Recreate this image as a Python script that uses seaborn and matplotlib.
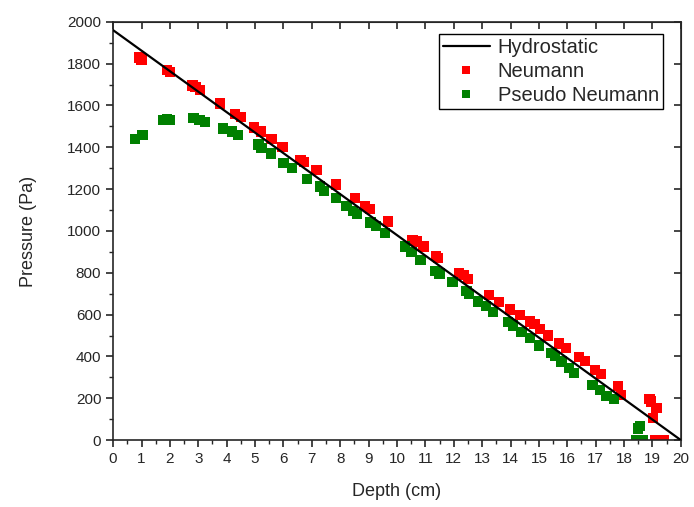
import numpy as np
import pandas as pd
import seaborn as sns
import matplotlib.pyplot as plt
from matplotlib.ticker import MultipleLocator

# depth (cm) / pressure (Pa)
hydro_depth = [0, 20]
hydro_pressure = [1960, 0]

neumann_depth = [0.9, 1.0, 1.9, 2.0, 2.8, 2.9, 3.06, 3.77, 4.3, 4.5, 4.96, 5.2, 5.58, 5.97,
                 6.6, 6.73, 7.17, 7.84, 8.52, 8.87, 9.05, 9.69, 10.55, 10.7, 10.93, 11.37,
                 11.45, 12.19, 12.35, 12.51, 13.25, 13.6, 13.98, 14.33, 14.68, 14.85, 15.04,
                 15.33, 15.72, 15.95, 16.42, 16.62, 16.97, 17.2, 17.79, 17.9, 18.9, 18.95,
                 19.14, 19.03, 19.08, 19.25, 19.4]
neumann_pressure = [1830, 1820, 1770, 1760, 1695, 1688, 1675, 1610, 1560, 1545, 1495, 1475,
                    1440, 1400, 1340, 1330, 1290, 1222, 1158, 1118, 1104, 1045, 955, 950, 925,
                    880, 872, 800, 790, 770, 693, 660, 625, 597, 567, 555, 530, 500, 462, 440,
                    398, 378, 335, 315, 260, 215, 195, 185, 155, 105, 0, 0, 0]

pseudo_depth = [0.77, 1.04, 1.77, 1.9, 2.0, 2.83, 3.04, 3.24, 3.88, 4.18, 4.41, 5.12, 5.23,
                5.55, 6.0, 6.29, 6.84, 7.29, 7.42, 7.85, 8.22, 8.46, 8.6, 9.07, 9.26, 9.58,
                10.28, 10.51, 10.83, 11.35, 11.5, 11.96, 12.45, 12.55, 12.86, 13.13, 13.39,
                13.92, 14.1, 14.39, 14.68, 15.0, 15.44, 15.56, 15.8, 16.07, 16.24, 16.89,
                17.15, 17.38, 17.65, 18.5, 18.56, 18.42, 18.55, 18.68]
pseudo_pressure = [1440, 1460, 1530, 1535, 1532, 1540, 1530, 1522, 1490, 1475, 1458, 1413,
                   1397, 1370, 1326, 1300, 1250, 1212, 1190, 1158, 1118, 1095, 1080, 1040,
                   1022, 990, 925, 900, 862, 810, 797, 757, 712, 700, 663, 640, 612, 565, 548,
                   518, 488, 452, 415, 402, 375, 345, 322, 265, 240, 210, 195, 56, 67, 0, 0, 0]

sns.set_style('ticks')
plt.rcParams['font.family'] = ['Liberation Sans', 'DejaVu Sans']

hydro = pd.DataFrame({'Depth': hydro_depth, 'Pressure': hydro_pressure})
pts = pd.concat([
    pd.DataFrame({'Depth': neumann_depth, 'Pressure': neumann_pressure, 'Series': 'Neumann'}),
    pd.DataFrame({'Depth': pseudo_depth, 'Pressure': pseudo_pressure, 'Series': 'Pseudo Neumann'}),
])

fig = plt.figure(figsize=(6.94, 5.07), dpi=100)
ax = fig.add_axes([0.163, 0.132, 0.818, 0.825])

sns.lineplot(data=hydro, x='Depth', y='Pressure', color='black', lw=1.6,
             label='Hydrostatic', ax=ax, zorder=3)
sns.scatterplot(data=pts, x='Depth', y='Pressure', hue='Series',
                palette={'Neumann': '#ff0000', 'Pseudo Neumann': '#008000'},
                marker='s', s=55, linewidth=0, ax=ax, zorder=2)

ax.set_xlim(0, 20)
ax.set_ylim(0, 2000)
ax.xaxis.set_major_locator(MultipleLocator(1))
ax.xaxis.set_minor_locator(MultipleLocator(0.5))
ax.yaxis.set_major_locator(MultipleLocator(200))
ax.yaxis.set_minor_locator(MultipleLocator(100))
ax.tick_params(which='major', direction='out', length=5, width=1.2, labelsize=11,
               top=False, right=False)
ax.tick_params(which='minor', direction='out', length=3, width=1.0)

# inward major ticks on top / right spines
sec_x = ax.secondary_xaxis('top')
sec_x.set_xticks(range(0, 21))
sec_x.tick_params(which='both', direction='in', length=5, width=1.2)
sec_x.xaxis.set_minor_locator(plt.NullLocator())
sec_x.set_xticklabels([])
sec_y = ax.secondary_yaxis('right')
sec_y.set_yticks(range(0, 2001, 200))
sec_y.tick_params(which='both', direction='in', length=5, width=1.2)
sec_y.yaxis.set_minor_locator(plt.NullLocator())
sec_y.set_yticklabels([])

for sp in ax.spines.values():
    sp.set_linewidth(1.2)
    sp.set_visible(True)

ax.set_xlabel('Depth (cm)', fontsize=13, labelpad=12)
ax.set_ylabel('Pressure (Pa)', fontsize=13, labelpad=22)

leg = ax.legend(loc='upper right', bbox_to_anchor=(0.979, 0.985), fontsize=14.5,
                frameon=True, fancybox=False, edgecolor='black', framealpha=1,
                handlelength=2.3, borderpad=0.2, labelspacing=0.25, handletextpad=0.4,
                markerscale=0.8, borderaxespad=0.3)
leg.get_frame().set_linewidth(1.0)

fig.savefig('out.png', dpi=100)
